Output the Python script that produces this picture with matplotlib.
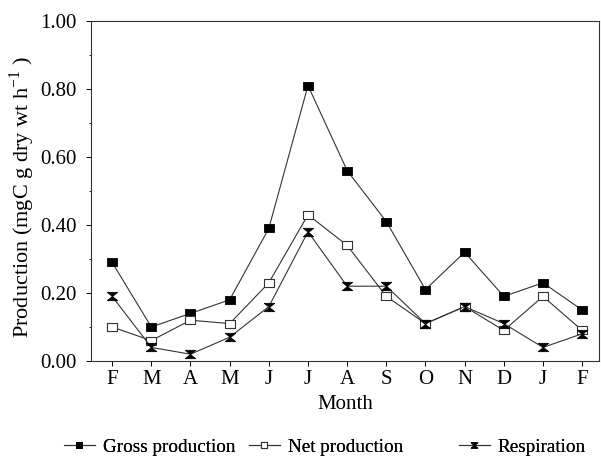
import matplotlib
matplotlib.use("Agg")
import matplotlib.pyplot as plt
from matplotlib.path import Path
from matplotlib.ticker import MultipleLocator, FormatStrFormatter

months = ["F", "M", "A", "M", "J", "J", "A", "S", "O", "N", "D", "J", "F"]
gross = [0.29, 0.10, 0.14, 0.18, 0.39, 0.81, 0.56, 0.41, 0.21, 0.32, 0.19, 0.23, 0.15]
net = [0.10, 0.06, 0.12, 0.11, 0.23, 0.43, 0.34, 0.19, 0.11, 0.16, 0.09, 0.19, 0.09]
resp = [0.19, 0.04, 0.02, 0.07, 0.16, 0.38, 0.22, 0.22, 0.11, 0.16, 0.11, 0.04, 0.08]
series_names = ["Gross production", "Net production", "Respiration"]

plt.rcParams['font.family'] = ['Liberation Serif', 'DejaVu Serif']
plt.rcParams['mathtext.fontset'] = 'custom'
plt.rcParams['mathtext.rm'] = 'Liberation Serif'

W, H = 601, 466
fig = plt.figure(figsize=(W / 100, H / 100), dpi=100)
ax = fig.add_axes([91 / W, 1 - 361 / H, (599 - 91) / W, (361 - 21) / H])

rect = Path([(-1, -0.75), (1, -0.75), (1, 0.75), (-1, 0.75), (-1, -0.75)],
            [Path.MOVETO, Path.LINETO, Path.LINETO, Path.LINETO, Path.CLOSEPOLY])
hourglass = Path([(-1, 0.8), (1, 0.8), (0, 0), (1, -0.8), (-1, -0.8), (0, 0), (-1, 0.8)],
                 [Path.MOVETO, Path.LINETO, Path.LINETO, Path.LINETO, Path.LINETO, Path.LINETO, Path.CLOSEPOLY])

x = list(range(len(months)))
lc = '#333333'
l1, = ax.plot(x, gross, color=lc, lw=0.8, marker=rect, ms=7.5, mfc='black', mec='black',
              mew=0.6, label=series_names[0])
l2, = ax.plot(x, net, color=lc, lw=0.8, marker=rect, ms=7.5, mfc='white', mec='#333333',
              mew=0.8, label=series_names[1])
l3, = ax.plot(x, resp, color=lc, lw=0.8, marker=hourglass, ms=7.5, mfc='black', mec='black',
              mew=0.6, label=series_names[2])

ax.set_xlim(-0.54, 12.43)
ax.set_ylim(0, 1.0)
ax.set_xticks(x)
ax.set_xticklabels(months, fontsize=15)
ax.yaxis.set_major_locator(MultipleLocator(0.2))
ax.yaxis.set_minor_locator(MultipleLocator(0.1))
ax.yaxis.set_major_formatter(FormatStrFormatter('%.2f'))
ax.tick_params(axis='y', which='major', labelsize=15, length=3.5, width=0.7, direction='out', pad=7)
ax.tick_params(axis='y', which='minor', length=1.8, width=0.6, direction='out')
ax.tick_params(axis='x', length=3.5, width=0.7, direction='out', pad=3)
for s in ax.spines.values():
    s.set_linewidth(0.8)
    s.set_color('#333333')

ax.set_xlabel('Month', fontsize=15, labelpad=4)
ax.set_ylabel(r'Production (mgC g dry wt h$^{\mathregular{-1}}$ )', fontsize=16)
ax.yaxis.set_label_coords(-0.106, 0.482)

specs = [(l1, 64), (l2, 249), (l3, 459)]
for handle, xl in specs:
    lg = fig.legend([handle], [handle.get_label()], loc='center left',
                    bbox_to_anchor=(xl / W, 1 - 447 / H), frameon=False, fontsize=13.8,
                    handlelength=1.6, handletextpad=0.42, borderpad=0, borderaxespad=0,
                    markerscale=0.65)
    fig.add_artist(lg)

fig.savefig('out.png', dpi=100)
